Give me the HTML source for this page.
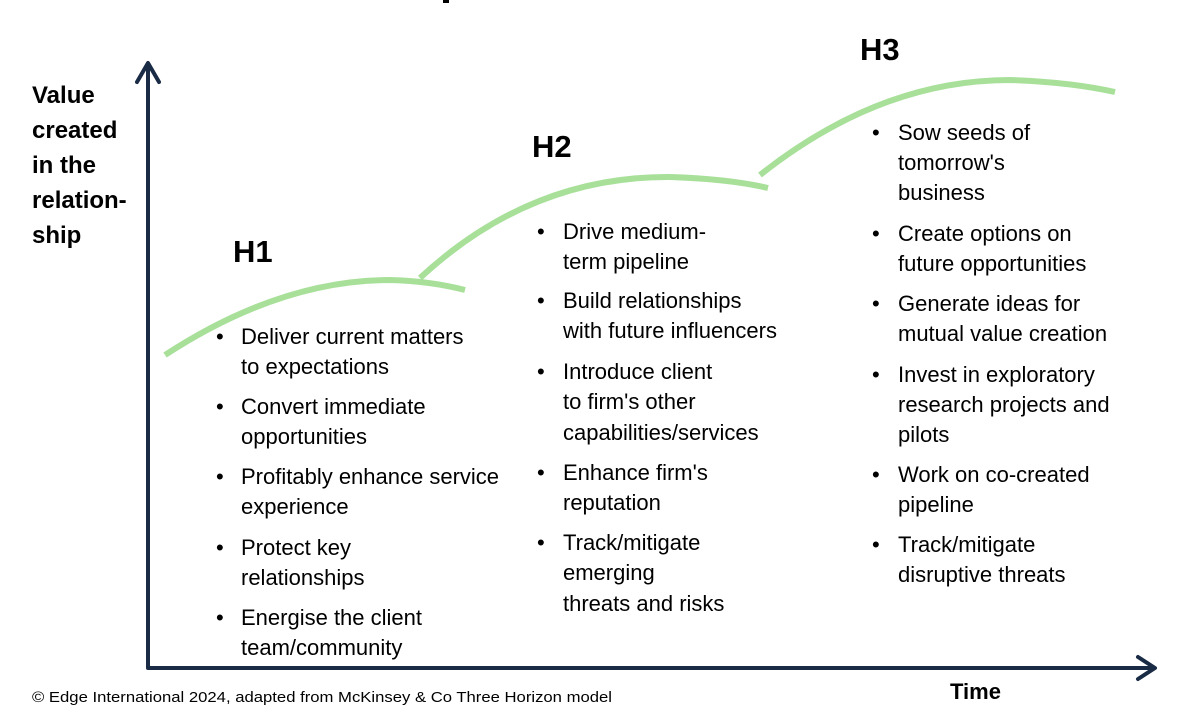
<!DOCTYPE html>
<html><head><meta charset="utf-8"><style>
html,body{margin:0;padding:0;background:#fff;}
svg{display:block}
text{font-family:"Liberation Sans",sans-serif;fill:#000}
.b{font-size:22px}
.y{font-size:24px;font-weight:bold}
.h{font-size:31px;font-weight:bold}
</style></head><body>
<svg width="1200" height="723" viewBox="0 0 1200 723" xmlns="http://www.w3.org/2000/svg">
<rect x="443" y="0" width="6" height="3" fill="#000"/>
<g stroke="#a8e09a" stroke-width="6" fill="none" stroke-linecap="butt">
<path d="M165,355 Q280,280 390,280 Q430,281 465,290"/>
<path d="M420,278 Q530,176 670,177 Q730,179 768,188"/>
<path d="M760,175 Q880,80 1010,80 Q1070,82 1115,92"/>
</g>
<g stroke="#1a2b45" stroke-width="4" fill="none" stroke-linecap="round" stroke-linejoin="round">
<path d="M148,64 L148,668 L1153,668"/>
<path d="M137,82 L148,63 L159,82"/>
<path d="M1138,657 L1155,668 L1138,679"/>
</g>
<g class="y">
<text x="32" y="103">Value</text><text x="32" y="138">created</text><text x="32" y="173">in the</text><text x="32" y="208">relation-</text><text x="32" y="243">ship</text>
</g>
<text class="h" x="233" y="262">H1</text>
<text class="h" x="532" y="157">H2</text>
<text class="h" x="860" y="60">H3</text>
<g class="b">
<text x="216" y="344">•</text><text x="241" y="344">Deliver current matters</text><text x="241" y="374">to expectations</text>
<text x="216" y="414">•</text><text x="241" y="414">Convert immediate</text><text x="241" y="444">opportunities</text>
<text x="216" y="484">•</text><text x="241" y="484">Profitably enhance service</text><text x="241" y="514">experience</text>
<text x="216" y="555">•</text><text x="241" y="555">Protect key</text><text x="241" y="585">relationships</text>
<text x="216" y="625">•</text><text x="241" y="625">Energise the client</text><text x="241" y="655">team/community</text>

<text x="537" y="239">•</text><text x="563" y="239">Drive medium-</text><text x="563" y="269">term pipeline</text>
<text x="537" y="308">•</text><text x="563" y="308">Build relationships</text><text x="563" y="338">with future influencers</text>
<text x="537" y="379">•</text><text x="563" y="379">Introduce client</text><text x="563" y="409">to firm's other</text><text x="563" y="440">capabilities/services</text>
<text x="537" y="480">•</text><text x="563" y="480">Enhance firm's</text><text x="563" y="510">reputation</text>
<text x="537" y="550">•</text><text x="563" y="550">Track/mitigate</text><text x="563" y="580">emerging</text><text x="563" y="611">threats and risks</text>

<text x="872" y="140">•</text><text x="898" y="140">Sow seeds of</text><text x="898" y="170">tomorrow's</text><text x="898" y="200">business</text>
<text x="872" y="241">•</text><text x="898" y="241">Create options on</text><text x="898" y="271">future opportunities</text>
<text x="872" y="311">•</text><text x="898" y="311">Generate ideas for</text><text x="898" y="341">mutual value creation</text>
<text x="872" y="382">•</text><text x="898" y="382">Invest in exploratory</text><text x="898" y="412">research projects and</text><text x="898" y="442">pilots</text>
<text x="872" y="482">•</text><text x="898" y="482">Work on co-created</text><text x="898" y="512">pipeline</text>
<text x="872" y="552">•</text><text x="898" y="552">Track/mitigate</text><text x="898" y="582">disruptive threats</text>
</g>
<text x="32" y="702" style="font-size:15px" textLength="580" lengthAdjust="spacingAndGlyphs">© Edge International 2024, adapted from McKinsey &amp; Co Three Horizon model</text>
<text x="950" y="699" style="font-size:22px;font-weight:bold">Time</text>
</svg>
</body></html>
